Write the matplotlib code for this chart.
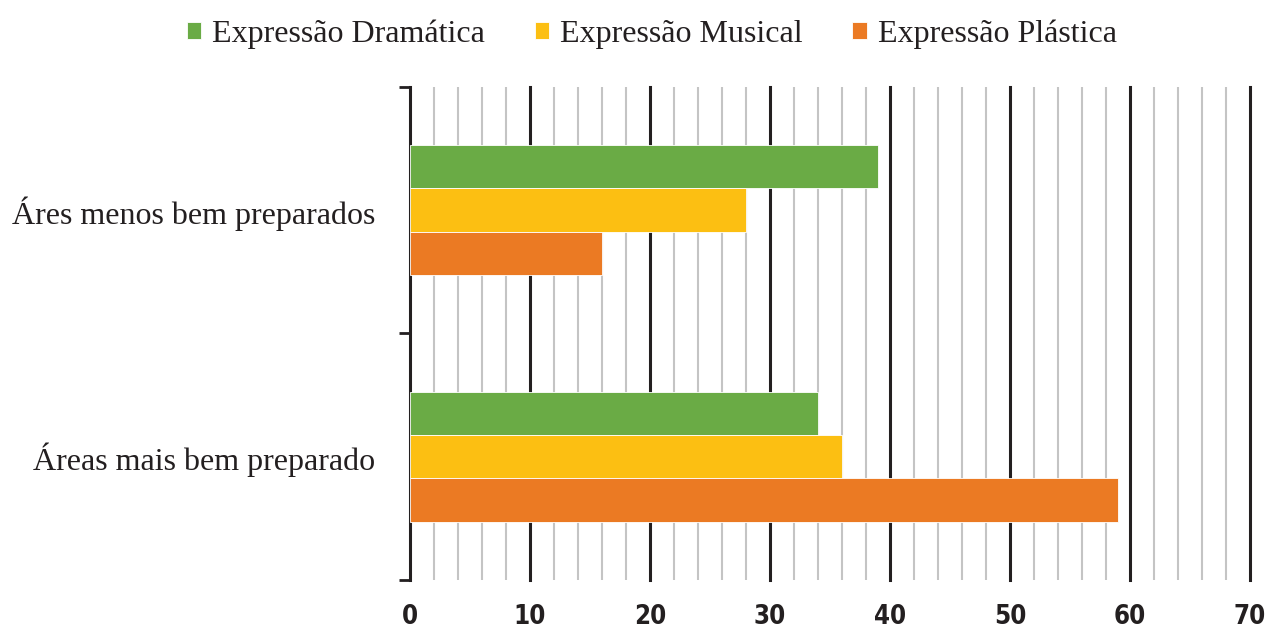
import numpy as np
import matplotlib.pyplot as plt
from matplotlib.ticker import MultipleLocator

categories = ['Áres menos bem preparados', 'Áreas mais bem preparado']
series = ['Expressão Dramática', 'Expressão Musical', 'Expressão Plástica']
dramatica = [39, 34]
musical = [28, 36]
plastica = [16, 59]
colors = ['#6AAB45', '#FCBF12', '#EB7A23']

fig = plt.figure(figsize=(12.73, 6.33), dpi=100)
ax = fig.add_axes([0.322, 0.0837, 0.66, 0.779])

ypos = np.array([0.5, 1.5])
h = 0.176
values = [dramatica, musical, plastica]
for i, (name, vals, c) in enumerate(zip(series, values, colors)):
    ax.barh(ypos + (i - 1) * h, vals, height=h, color=c, edgecolor='white',
            linewidth=0.6, label=name, zorder=3)

ax.set_xlim(0, 70)
ax.set_ylim(2, 0)

# grid: minor every 2, major every 10
for x in np.arange(2, 71, 2):
    if x % 10 == 0:
        ax.axvline(x, color='#231f20', lw=2.2, zorder=1, clip_on=False)
    else:
        ax.axvline(x, color='#c4c4c4', lw=1.5, zorder=1)

ax.xaxis.set_major_locator(MultipleLocator(10))
ax.tick_params(axis='x', length=0, pad=17)
for lab in ax.get_xticklabels():
    lab.set_family('DejaVu Sans')
    lab.set_stretch('condensed')
    lab.set_fontweight('bold')
    lab.set_fontsize(18.5)
    lab.set_color('#231f20')

ax.set_yticks([0, 1, 2])
ax.set_yticklabels([])
ax.tick_params(axis='y', which='major', length=8, width=2, color='#231f20', direction='out')
ax.set_yticks(ypos, minor=True)
ax.set_yticklabels(categories, minor=True, family='Liberation Serif', fontsize=23,
                   color='#231f20')
ax.tick_params(axis='y', which='minor', length=0, pad=25)

for s in ['top', 'right', 'bottom']:
    ax.spines[s].set_visible(False)
ax.spines['left'].set_linewidth(2.2)
ax.spines['left'].set_color('#231f20')

fig.legend(loc='upper center', bbox_to_anchor=(0.512, 1.015), ncol=3, frameon=False,
           prop={'family': 'Liberation Serif', 'size': 23}, handlelength=0.45,
           handleheight=0.45, handletextpad=0.35, columnspacing=1.55)
for t in fig.legends[0].get_texts():
    t.set_color('#231f20')

fig.savefig('out.png', dpi=100)
